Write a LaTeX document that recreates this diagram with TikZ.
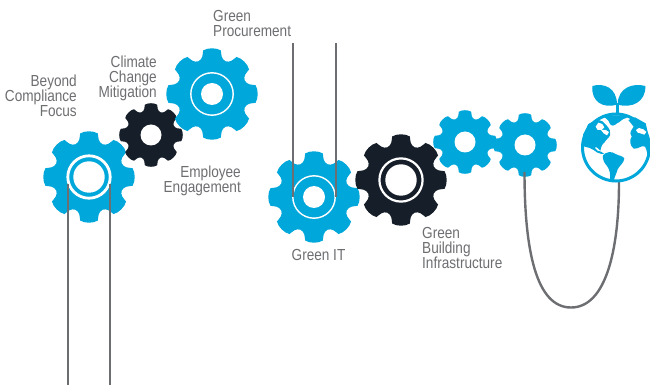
\documentclass[tikz,border=0pt]{standalone}
\usepackage{fontspec}
\setmainfont[FakeStretch=0.85]{Liberation Sans}
\definecolor{gearblue}{HTML}{00A7DA}
\definecolor{gearblack}{HTML}{151E29}
\definecolor{inkgrey}{HTML}{6D6E71}
\newcommand{\gearat}[4]{% x,y,radius,colour
  \begin{scope}[shift={(#1,#2)},x=#3pt,y=#3pt]
    \fill[#4] (-11.5:.965)
    \foreach \a in {0,45,...,315}{
      .. controls (\a-6:1.015) and (\a+6:1.015) .. (\a+11.5:.965)
      .. controls (\a+13.5:.88) and (\a+14.5:.785) .. (\a+22.5:.77)
      .. controls (\a+30.5:.785) and (\a+31.5:.88) .. (\a+33.5:.965)
    } -- cycle;
  \end{scope}}
\tikzset{
  lab/.style={font=\fontsize{16}{15}\selectfont,text=inkgrey,inner sep=0pt},
  wirethick/.style={draw=inkgrey,line width=2.8pt},
  wirethin/.style={draw=inkgrey,line width=1.5pt},
  hole/.style={fill=white},
  ring/.style={draw=white}
}
\begin{document}
\begin{tikzpicture}[x=1pt,y=-1pt]
\useasboundingbox (0,0) rectangle (650,387);
\gearat{89}{177}{46}{gearblue}
\gearat{151}{135}{32}{gearblack}
\gearat{212}{94}{46}{gearblue}
\gearat{314}{197}{46}{gearblue}
\gearat{401}{180}{46}{gearblack}
\gearat{465}{142}{32}{gearblue}
\gearat{525}{145}{32}{gearblue}
\coordinate (c1) at (89,177);
\coordinate (c2) at (151,135);
\coordinate (c3) at (212,94);
\coordinate (c4) at (314,197);
\coordinate (c5) at (401,180);
\coordinate (c6) at (465,142);
\coordinate (c7) at (525,145);
\draw[ring,line width=2.8pt] (c1) circle[radius=21.2pt];
\fill[hole] (c1) circle[radius=15.7pt];
\fill[hole] (c2) circle[radius=10.5pt];
\draw[ring,line width=1.4pt] (c3) circle[radius=21.2pt];
\fill[hole] (c3) circle[radius=11pt];
\draw[ring,line width=1.4pt] (c4) circle[radius=21.2pt];
\fill[hole] (c4) circle[radius=11pt];
\draw[ring,line width=2.2pt] (c5) circle[radius=21.6pt];
\fill[hole] (c5) circle[radius=15.7pt];
\fill[hole] (c6) circle[radius=10.5pt];
\fill[hole] (c7) circle[radius=10.5pt];
\coordinate (a1) at (68,184); \coordinate (a2) at (68,385);
\coordinate (b1) at (110,184); \coordinate (b2) at (110,385);
\coordinate (d1) at (293,43); \coordinate (d2) at (293,197);
\coordinate (e1) at (336,43); \coordinate (e2) at (336,197);
\coordinate (f1) at (524.5,172); \coordinate (f2) at (619,182);
\draw[wirethick] (a1) -- (a2);
\draw[wirethick] (b1) -- (b2);
\draw[wirethin] (d1) -- (d2);
\draw[wirethin] (e1) -- (e2);
\draw[wirethick,line width=2.4pt] (f1) .. controls (524.5,250) and (536,307.5) .. (571,307.5)
  .. controls (606,307.5) and (619,250) .. (f2);
\draw[gearblue,line width=3pt] (616,147.5) circle[radius=33.5pt];
\begin{scope}[shift={(575,80)},x=.3333pt,y=-.3333pt]
  \fill[gearblue] (122,70) rectangle (132,104);
  \fill[gearblue] (52,18) .. controls (85,8) and (126,22) .. (126,74)
     .. controls (85,86) and (48,66) .. (52,18) -- cycle;
  \fill[gearblue] (211,18) .. controls (175,8) and (128,22) .. (128,74)
     .. controls (170,86) and (213,66) .. (211,18) -- cycle;
  % polar cap
  \fill[gearblue] (82,106) -- (160,106) -- (154,114) .. controls (140,116) and (135,128) .. (126,130)
     .. controls (118,138) and (108,140) .. (104,130) .. controls (100,118) and (92,116) .. (82,106) -- cycle;
  % north america
  \fill[gearblue] (66,118) -- (82,124) .. controls (95,135) and (108,150) .. (105,158)
     .. controls (110,170) and (92,178) .. (88,188) .. controls (80,192) and (78,205) .. (76,212)
     .. controls (68,205) and (62,196) .. (60,204) .. controls (62,212) and (72,214) .. (78,215) -- (88,222) -- (80,222)
     .. controls (70,220) and (62,216) .. (56,210) .. controls (48,206) and (38,200) .. (28,200)
     -- (24,165) -- (40,132) -- cycle;
  % south america
  \fill[gearblue] (84,226) .. controls (92,216) and (110,212) .. (122,222) .. controls (132,228) and (146,228) .. (148,236)
     .. controls (146,250) and (134,256) .. (128,268) .. controls (124,282) and (118,292) .. (116,304)
     -- (104,304) .. controls (108,285) and (104,268) .. (96,258) .. controls (88,250) and (82,238) .. (84,226) -- cycle;
  % europe-africa
  \fill[gearblue] (160,120) .. controls (170,128) and (170,130) .. (176,140)
     .. controls (172,150) and (160,155) .. (170,170) .. controls (163,180) and (164,196) .. (176,206)
     .. controls (190,208) and (200,194) .. (210,200) .. controls (216,210) and (218,225) .. (218,236)
     -- (226,190) -- (212,130) -- (180,112) -- cycle;
  % white ice on north america
  \fill[white] (62,140) -- (70,128) -- (82,132) -- (88,142) -- (80,150) -- (68,150) -- cycle;
  \fill[white] (78,150) -- (92,150) -- (102,156) -- (96,166) -- (86,160) -- cycle;
  % white on europe
  \fill[white] (183,150) -- (192,144) -- (205,148) -- (214,156) -- (208,164) -- (196,160) -- (188,158) -- cycle;
\end{scope}
\node[lab,align=right,anchor=north east] (beyond) at (77,75) {Beyond\\Compliance\\Focus};
\node[lab,align=right,anchor=north east] (climate) at (157,56) {Climate\\Change\\Mitigation};
\node[lab,align=right,anchor=north east] (employee) at (241,166) {Employee\\Engagement};
\node[lab,align=left,anchor=north west] (procure) at (213,10) {Green\\Procurement};
\node[lab,align=center,anchor=north] (greenit) at (318.5,249) {Green IT};
\node[lab,align=left,anchor=north west] (building) at (422,227) {Green\\Building\\Infrastructure};
\end{tikzpicture}
\end{document}
